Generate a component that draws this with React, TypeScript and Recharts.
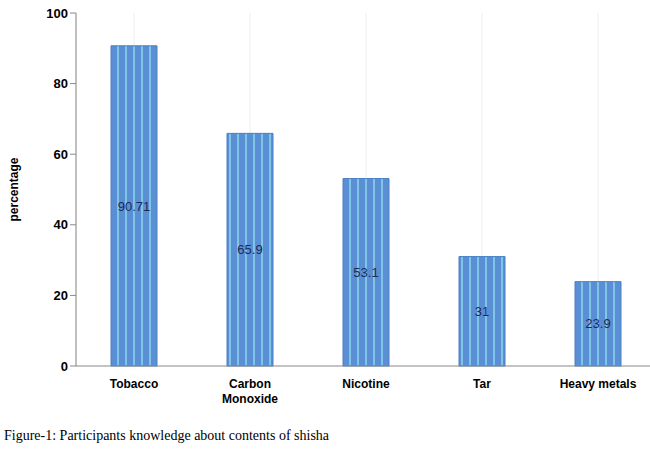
import { BarChart, Bar, XAxis, YAxis, CartesianGrid, LabelList } from "recharts";

const categories = ["Tobacco", "Carbon Monoxide", "Nicotine", "Tar", "Heavy metals"];
const values = [90.71, 65.9, 53.1, 31, 23.9];
const yTicks = [0, 20, 40, 60, 80, 100];

const data = categories.map((name, i) => ({ name, value: values[i] }));

const font = "Liberation Sans, Arial, sans-serif";

function XTick({ x, y, payload }: any) {
  const lines = payload.value === "Carbon Monoxide" ? ["Carbon", "Monoxide"] : [payload.value];
  return (
    <text x={x} y={y + 14} textAnchor="middle" fontFamily={font} fontSize={12} fontWeight="bold" fill="#000">
      {lines.map((l, i) => (
        <tspan key={i} x={x} dy={i === 0 ? 0 : 15}>{l}</tspan>
      ))}
    </text>
  );
}

export default function App() {
  return (
    <div style={{ position: "absolute", left: 0, top: 0, width: 650, height: 454, background: "#fff" }}>
      <BarChart width={650} height={412} data={data} margin={{ top: 13, right: -6, left: 0, bottom: 0 }} barSize={46}>
        <defs>
          <pattern id="stripes" width="8" height="10" patternUnits="userSpaceOnUse">
            <rect width="8" height="10" fill="#5a8fd6" />
            <rect x="5" width="2" height="10" fill="#7fc6e6" />
          </pattern>
        </defs>
        <CartesianGrid horizontal={false} vertical stroke="#eeeeee" />
        <XAxis dataKey="name" tick={<XTick />} tickLine={false} axisLine={{ stroke: "#888" }} height={46} interval={0} />
        <YAxis
          domain={[0, 100]}
          ticks={yTicks}
          width={76}
          axisLine={{ stroke: "#888" }}
          tickLine={{ stroke: "#888" }}
          tick={{ fontFamily: font, fontSize: 13, fontWeight: "bold", fill: "#000" }}
          label={{ value: "percentage", angle: -90, position: "insideLeft", offset: 14, style: { fontFamily: font, fontSize: 12, fontWeight: "bold", fill: "#000", textAnchor: "middle" } }}
        />
        <Bar dataKey="value" fill="url(#stripes)" stroke="#4a7fc6" strokeWidth={1} isAnimationActive={false}>
          <LabelList dataKey="value" position="center" style={{ fontFamily: font, fontSize: 13, fill: "#1a2a5a" }} />
        </Bar>
      </BarChart>
      <div style={{ position: "absolute", left: 4, top: 428, fontFamily: "Liberation Serif, Times New Roman, serif", fontSize: 14, color: "#000" }}>
        Figure-1: Participants knowledge about contents of shisha
      </div>
    </div>
  );
}
